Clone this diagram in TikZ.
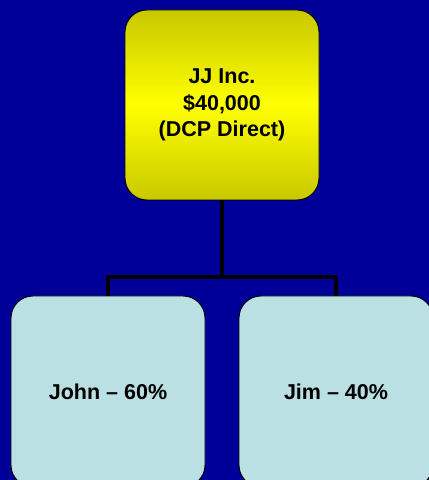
\documentclass[tikz,border=0pt]{standalone}
\usepackage{fontspec}
\setmainfont{Liberation Sans}
\definecolor{slideblue}{RGB}{0,0,153}
\definecolor{boxyellow}{RGB}{255,255,0}
\definecolor{dimyellow}{RGB}{200,200,0}
\definecolor{paleblue}{RGB}{186,224,228}
\begin{document}
\begin{tikzpicture}[x=1pt,y=1pt,line join=round,line cap=round]
	\tikzset{card/.style={draw=black,line width=0.9pt,rounded corners=22pt,minimum width=194pt,align=center,font=\fontsize{21.5}{26.5}\selectfont\bfseries},
		owner/.style={card,fill=paleblue,minimum height=191pt},
		wire/.style={line width=3.2pt,line cap=butt}}
	\useasboundingbox (0,0) rectangle (429,480);
	\clip (0,0) rectangle (429,480);
	\fill[slideblue] (0,0) rectangle (429,480);
	% company box
	\node[card,minimum height=190pt,top color=dimyellow,bottom color=dimyellow,middle color=boxyellow] (jj) at (222,375) {JJ Inc.\\\$40,000\\(DCP Direct)};
	% owners
	\node[owner] (john) at (108,88.5) {John -- 60\%};
	\node[owner] (jim) at (336,88.5) {Jim -- 40\%};
	\coordinate (split) at (222,203);
	\draw[wire] (jj.south) -- (split);
	\draw[wire] (split) -| (john.north);
	\draw[wire] (split) -| (jim.north);
\end{tikzpicture}
\end{document}
